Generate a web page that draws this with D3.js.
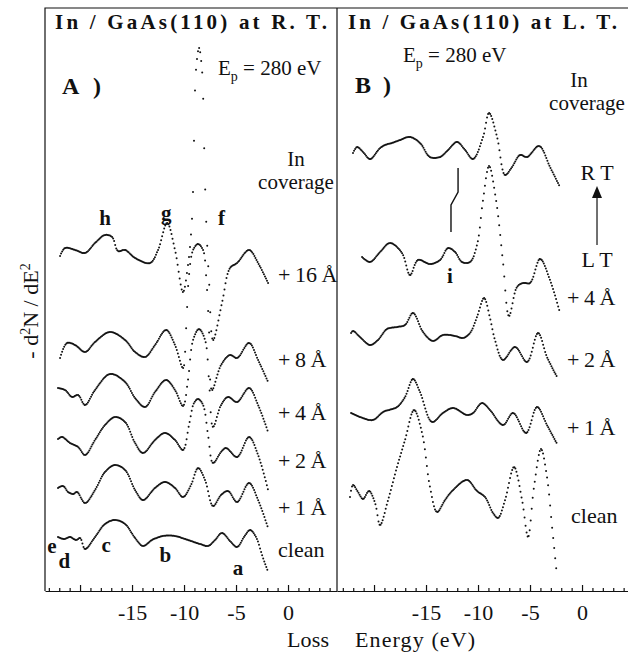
<!DOCTYPE html>
<meta charset="utf-8">
<style>
body{margin:0;background:white}
text{font-family:"Liberation Serif","Times New Roman",serif;fill:#111}
.b{font-weight:bold}
.axis path,.axis line{stroke:#111;stroke-width:1.2}
.axis text{font-family:"Liberation Serif",serif;font-size:22px;fill:#111}
</style>
<svg width="628" height="655"></svg>
<script src="https://d3js.org/d3.v7.min.js"></script>
<script>
// spectra: [loss energy (eV), -d2N/dE2 (arb. units, offset included)]
// panel A, room temperature
var aClean = [[-22.12,5.4],[-21.54,5.2],[-20.96,5.4],[-20.38,5.1],[-20.0,5.3],[-19.52,4.2],[-18.56,5.4],[-17.6,6.7],
  [-16.63,7.1],[-15.67,6.7],[-14.71,5.3],[-13.94,4.5],[-13.08,5.1],[-12.02,5.5],[-10.87,5.5],[-9.9,5.2],[-8.46,4.7],
  [-7.69,4.5],[-7.02,5.1],[-6.35,5.8],[-5.58,5.0],[-4.9,4.4],[-4.23,5.4],[-3.65,6.1],[-3.08,5.4],[-2.5,3.6],[-1.92,1.9]];
var a1 = [[-22.12,10.3],[-21.63,10.5],[-21.15,9.9],[-20.67,9.7],[-20.29,9.9],[-19.52,8.8],[-18.56,10.1],[-17.6,11.9],
  [-16.63,12.6],[-15.67,12.1],[-14.71,10.1],[-13.94,9.1],[-12.79,10.3],[-11.83,10.9],[-10.87,10.3],[-10.1,9.4],
  [-9.33,10.6],[-8.65,12.3],[-7.98,11.1],[-7.21,8.5],[-6.44,9.6],[-5.77,10.0],[-4.9,8.9],[-3.75,10.8],[-2.88,9.1],[-1.92,6.3]];
var a2 = [[-22.12,15.2],[-21.73,15.4],[-20.96,14.8],[-20.19,14.4],[-19.52,13.6],[-18.56,15.1],[-17.6,16.6],[-16.63,17.4],
  [-15.67,16.9],[-14.71,14.8],[-13.94,13.8],[-12.79,15.1],[-11.83,15.8],[-10.87,15.1],[-10.1,14.1],[-9.52,16.6],
  [-9.04,18.8],[-8.65,19.2],[-8.17,18.6],[-7.69,15.6],[-7.21,12.8],[-6.44,13.9],[-5.96,14.3],[-4.9,13.4],[-3.75,15.4],
  [-2.88,13.6],[-1.92,10.1]];
var a4 = [[-22.12,20.3],[-21.44,20.1],[-20.77,19.4],[-20.19,19.6],[-19.52,18.6],[-18.56,20.1],[-17.12,21.7],[-15.67,20.9],
  [-14.71,19.3],[-13.75,18.4],[-12.79,19.9],[-11.73,21.1],[-10.87,20.1],[-10.1,18.5],[-9.62,21.1],[-9.13,25.1],
  [-8.56,26.2],[-7.98,25.1],[-7.6,21.1],[-7.21,16.4],[-6.44,18.6],[-5.77,19.4],[-4.9,18.9],[-3.75,20.3],[-2.88,18.6],[-1.92,15.9]];
var a8 = [[-21.92,23.3],[-21.25,24.8],[-20.48,24.6],[-19.52,23.9],[-18.56,24.9],[-17.12,25.9],[-15.67,25.1],[-14.71,23.9],
  [-13.75,23.4],[-12.79,24.6],[-11.73,26.1],[-10.87,24.6],[-10.1,22.3],[-9.81,26.1],[-9.52,31.6],[-9.13,34.1],
  [-8.65,34.7],[-8.17,34.1],[-7.88,31.6],[-7.6,26.1],[-7.31,20.1],[-6.44,22.6],[-5.58,23.6],[-4.9,23.3],[-3.75,24.8],
  [-2.88,23.1],[-1.92,20.9]];
var a16 = [[-21.92,33.5],[-21.44,34.3],[-20.48,34.1],[-19.52,33.8],[-18.56,34.8],[-17.6,35.6],[-16.92,35.4],[-16.35,34.0],
  [-15.67,34.1],[-14.71,33.3],[-13.27,32.8],[-12.5,34.1],[-11.63,36.8],[-10.87,34.1],[-10.1,29.9],[-9.62,32.6],
  [-9.23,37.3],[-9.04,45.1],[-8.85,52.1],[-8.56,54.3],[-8.27,52.1],[-8.08,45.1],[-7.88,37.3],[-7.6,31.1],[-7.21,25.1],
  [-6.35,28.8],[-5.58,32.3],[-4.9,32.8],[-3.75,34.1],[-2.88,32.8],[-1.92,30.8]];

// panel B, low temperature (last one warmed to R.T.)
var bClean = [[-22.31,9.4],[-22.02,10.6],[-21.54,9.9],[-21.06,9.2],[-20.48,10.0],[-19.9,8.8],[-19.42,6.6],[-18.65,9.1],
  [-17.79,12.4],[-17.02,15.1],[-16.15,18.1],[-15.38,15.8],[-14.62,10.4],[-13.94,7.9],[-13.17,9.1],[-12.4,10.1],
  [-11.06,11.1],[-10.1,10.0],[-9.33,9.4],[-8.56,7.8],[-8.08,7.3],[-7.4,9.1],[-6.54,12.4],[-5.77,9.1],[-5.19,5.4],
  [-4.62,10.4],[-3.94,14.2],[-3.37,11.4],[-2.88,6.4],[-2.4,1.4]];
var b1 = [[-22.21,17.8],[-21.35,17.4],[-20.1,17.1],[-19.13,17.9],[-17.79,18.4],[-17.02,19.4],[-16.25,21.2],[-15.58,19.9],
  [-14.42,16.9],[-13.37,17.8],[-12.4,18.3],[-11.06,17.6],[-10.48,17.8],[-9.62,18.8],[-8.85,18.1],[-7.6,16.6],
  [-6.63,17.8],[-5.38,15.8],[-4.33,18.4],[-3.37,16.6],[-2.4,14.7]];
var b2 = [[-22.21,25.8],[-22.02,26.0],[-21.35,25.4],[-20.38,24.6],[-19.62,25.1],[-18.75,26.2],[-17.79,26.4],[-17.02,26.6],
  [-16.25,27.8],[-15.29,25.9],[-14.33,25.0],[-13.37,25.6],[-12.21,25.5],[-11.44,25.3],[-10.77,25.8],[-10.1,27.4],
  [-9.42,29.3],[-8.85,27.3],[-8.37,25.1],[-7.6,23.1],[-6.44,24.4],[-5.29,22.9],[-4.23,25.8],[-3.37,23.4],[-2.4,21.4]];
var b4 = [[-21.15,33.4],[-20.38,32.9],[-19.42,33.9],[-18.46,34.8],[-17.31,33.8],[-16.54,31.6],[-15.77,33.1],[-14.62,32.7],
  [-13.65,33.1],[-12.88,34.3],[-12.21,33.9],[-11.54,32.9],[-10.77,32.9],[-10.1,34.6],[-9.52,39.1],[-8.94,42.5],
  [-8.27,39.1],[-7.6,32.9],[-7.02,27.5],[-6.25,30.4],[-5.67,30.8],[-5.0,30.8],[-4.04,33.2],[-3.08,31.1],[-2.12,27.8]];
var b4rt = [[-22.02,43.8],[-21.63,44.4],[-21.06,43.9],[-20.38,43.2],[-19.42,44.3],[-18.94,44.6],[-18.27,44.8],[-17.5,45.1],
  [-16.54,45.4],[-15.58,44.8],[-14.62,43.4],[-13.65,43.4],[-12.88,44.1],[-12.02,44.9],[-11.25,44.1],[-10.48,43.2],
  [-9.52,45.4],[-8.94,47.8],[-8.17,45.4],[-7.4,41.6],[-6.73,42.4],[-5.96,43.6],[-5.29,43.4],[-4.13,44.5],[-3.08,42.4],[-2.12,40.4]];

var coverA = ["+ 16 Å", "+ 8 Å", "+ 4 Å", "+ 2 Å", "+ 1 Å", "clean"];
var coverAy = [282, 367, 420, 468, 515, 557];
var coverB = ["+ 4 Å", "+ 2 Å", "+ 1 Å", "clean"];
var coverBy = [305, 367, 435, 523];
var tickLabels = [-15, -10, -5, 0];
// peak letters: [label, energy, intensity]
var peaksA = [["h",-17.6,36.6],["g",-11.7,37.1],["f",-6.4,36.6],["e",-22.7,3.8],["d",-21.5,2.3],["c",-17.5,3.9],["b",-11.8,2.9],["a",-4.8,1.6]];
var peakB = [["i",-12.7,30.8]];
var markB = [[-11.92,42.3],[-11.92,39.9],[-12.6,38.6],[-12.6,35.9]];
var arrowB = [[1.44,34.6],[1.44,39.3]];

var svg = d3.select("svg");
var ink = "#111";
var xA = d3.scaleLinear().domain([-23.37, 4.71]).range([45, 337]);
var xB = d3.scaleLinear().domain([-23.56, 4.42]).range([337, 628]);
var y = d3.scaleLinear().domain([0, 58.3]).range([591, 8]);

// frame
svg.append("path").attr("d", "M45,591V8H628M337,8V591").attr("fill", "none").attr("stroke", ink).attr("stroke-width", 1.2);

// spectra are drawn as plotted points, ~1 px apart in x (solid where flat, dotted where steep)
function spectrum(x, pts) {
  var line = d3.line().x(d => x(d[0])).y(d => y(d[1])).curve(d3.curveCatmullRom.alpha(0.5));
  var p = svg.append("path").attr("d", line(pts)).attr("fill", "none");
  var node = p.node(), len = node.getTotalLength();
  var out = [], nx = -Infinity;
  for (var l = 0; l <= len; l += 0.2) {
    var q = node.getPointAtLength(l);
    if (q.x >= nx) { out.push([q.x, q.y]); nx = q.x + 1.0; }
  }
  p.remove();
  svg.append("g").selectAll("circle").data(out).join("circle")
    .attr("cx", d => d[0]).attr("cy", d => d[1]).attr("r", 1.0).attr("fill", ink);
}
[aClean, a1, a2, a4, a8, a16].forEach(s => spectrum(xA, s));
[bClean, b1, b2, b4, b4rt].forEach(s => spectrum(xB, s));

// axes
function axis(x) {
  var ints = d3.range(Math.ceil(x.domain()[0]), Math.floor(x.domain()[1]) + 1);
  svg.append("g").attr("class", "axis").attr("transform", "translate(0,591)")
    .call(d3.axisBottom(x).tickValues(ints.filter(v => v % 5)).tickSize(-3).tickFormat("")).select(".domain").remove();
  svg.append("g").attr("class", "axis").attr("transform", "translate(0,591)")
    .call(d3.axisBottom(x).tickValues(ints.filter(v => v % 5 == 0)).tickSizeInner(-6).tickSizeOuter(0).tickPadding(13)
      .tickFormat(d => tickLabels.includes(d) ? d : ""));
}
axis(xA);
axis(xB);

// titles
svg.append("text").attr("class", "b").attr("x", 55).attr("y", 29).attr("font-size", 21)
  .attr("textLength", 272).attr("lengthAdjust", "spacing").text("In / GaAs(110) at R. T.");
svg.append("text").attr("class", "b").attr("x", 348).attr("y", 29).attr("font-size", 21)
  .attr("textLength", 269).attr("lengthAdjust", "spacing").text("In / GaAs(110) at L. T.");

// y label
var yl = svg.append("text").attr("transform", "translate(38,311) rotate(-90)").attr("text-anchor", "middle").attr("font-size", 22);
yl.append("tspan").text("- d");
yl.append("tspan").attr("font-size", 14).attr("dy", -8).text("2");
yl.append("tspan").attr("dy", 8).text("N / dE");
yl.append("tspan").attr("font-size", 14).attr("dy", -8).text("2");

// x label
svg.append("text").attr("x", 287).attr("y", 647).attr("font-size", 22).attr("textLength", 42).text("Loss");
svg.append("text").attr("x", 355).attr("y", 647).attr("font-size", 22).attr("textLength", 120).text("Energy (eV)");

// panel letters
[["A", 62, 94], [")", 93, 94], ["B", 355, 93], [")", 383, 93]].forEach(t =>
  svg.append("text").attr("class", "b").attr("x", t[1]).attr("y", t[2]).attr("font-size", 24).text(t[0]));

// E_p
function ep(x0, y0) {
  var t = svg.append("text").attr("x", x0).attr("y", y0).attr("font-size", 21);
  t.append("tspan").text("E");
  t.append("tspan").attr("font-size", 14).attr("dy", 6).text("p");
  t.append("tspan").attr("dy", -6).text(" = 280 eV");
}
ep(218, 75);
ep(403, 62);

// "In coverage"
[[296, 166, "In"], [296, 189, "coverage"], [579, 87, "In"], [587, 110, "coverage"]].forEach(t =>
  svg.append("text").attr("x", t[0]).attr("y", t[1]).attr("text-anchor", "middle").attr("font-size", 21).text(t[2]));

// coverage labels
coverA.forEach((c, i) => svg.append("text").attr("x", 278).attr("y", coverAy[i]).attr("font-size", 22)
  .style("word-spacing", "-1px").text(c));
coverB.forEach((c, i) => svg.append("text").attr("x", c == "clean" ? 571 : 567).attr("y", coverBy[i]).attr("font-size", 22)
  .style("word-spacing", "-1px").text(c));

// peak letters
peaksA.forEach(p => svg.append("text").attr("class", "b").attr("x", xA(p[1])).attr("y", y(p[2]))
  .attr("text-anchor", "middle").attr("font-size", 21).text(p[0]));
peakB.forEach(p => svg.append("text").attr("class", "b").attr("x", xB(p[1])).attr("y", y(p[2]))
  .attr("text-anchor", "middle").attr("font-size", 21).text(p[0]));

// marker above "i"
svg.append("path").attr("d", d3.line().x(d => xB(d[0])).y(d => y(d[1]))(markB))
  .attr("fill", "none").attr("stroke", ink).attr("stroke-width", 1.4);

// R T <- L T arrow
svg.append("path").attr("d", d3.line().x(d => xB(d[0])).y(d => y(d[1]))(arrowB))
  .attr("stroke", ink).attr("stroke-width", 1.2);
var ax = xB(arrowB[1][0]), ay = y(arrowB[1][1]);
svg.append("path").attr("d", `M${ax - 5},${ay}L${ax},${ay - 12}L${ax + 5},${ay}Z`).attr("fill", ink);
svg.append("text").attr("x", ax).attr("y", 180).attr("text-anchor", "middle").attr("font-size", 22).text("R T");
svg.append("text").attr("x", ax).attr("y", 267).attr("text-anchor", "middle").attr("font-size", 22).text("L T");
</script>
